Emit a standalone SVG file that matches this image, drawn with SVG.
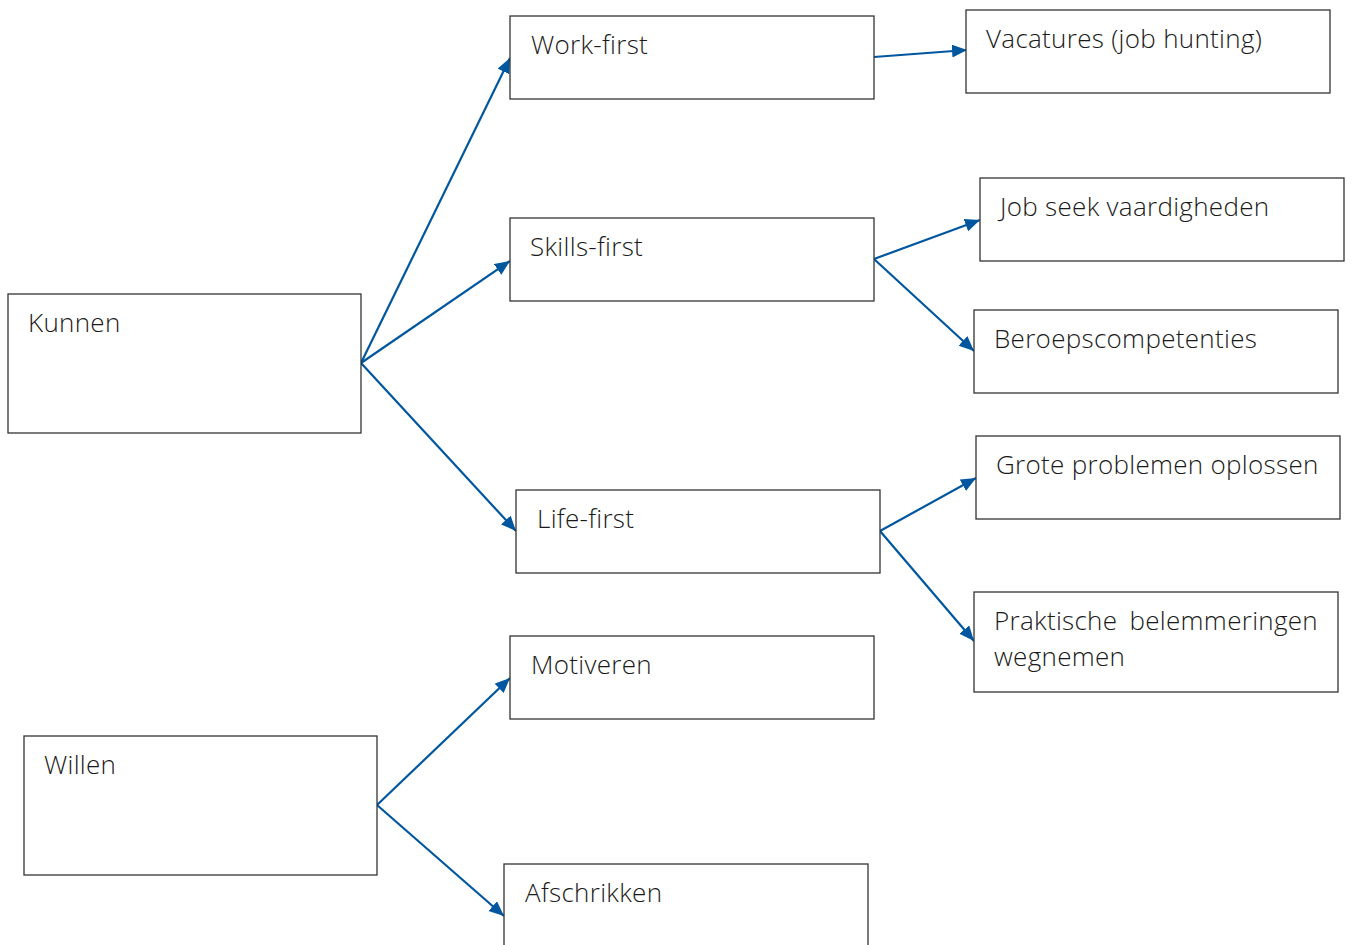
<svg xmlns="http://www.w3.org/2000/svg" width="1352" height="945" viewBox="0 0 1352 945">
<style>
.box{fill:#fff;stroke:#333;stroke-width:1.3}
.lbl{font-family:"Open Sans","Noto Sans",sans-serif;font-weight:300;font-size:26px;letter-spacing:0.3px;fill:#1a1a1a}
.conn{stroke:#0057a0;stroke-width:2.2;fill:none}
</style>
<defs>
<marker id="ah" markerUnits="userSpaceOnUse" markerWidth="17" markerHeight="14" refX="15" refY="6.5" orient="auto">
<path d="M0,0 L15,6.5 L0,13 z" fill="#0057a0"/>
</marker>
</defs>
<rect width="1352" height="945" fill="#fff"/>
<g id="connectors">
<line class="conn" x1="361" y1="363" x2="510" y2="58" marker-end="url(#ah)"/>
<line class="conn" x1="361" y1="363" x2="510" y2="261" marker-end="url(#ah)"/>
<line class="conn" x1="361" y1="363" x2="516" y2="531" marker-end="url(#ah)"/>
<line class="conn" x1="874" y1="57" x2="967" y2="50" marker-end="url(#ah)"/>
<line class="conn" x1="874" y1="259" x2="980" y2="220" marker-end="url(#ah)"/>
<line class="conn" x1="874" y1="259" x2="974" y2="351" marker-end="url(#ah)"/>
<line class="conn" x1="880" y1="531" x2="976" y2="478" marker-end="url(#ah)"/>
<line class="conn" x1="880" y1="531" x2="974" y2="641" marker-end="url(#ah)"/>
<line class="conn" x1="377" y1="805" x2="510" y2="678" marker-end="url(#ah)"/>
<line class="conn" x1="377" y1="805" x2="504" y2="916" marker-end="url(#ah)"/>
</g>
<g id="kunnen"><rect class="box" x="8" y="294" width="353" height="139"/><text class="lbl" x="28" y="332">Kunnen</text></g>
<g id="willen"><rect class="box" x="24" y="736" width="353" height="139"/><text class="lbl" x="44" y="774">Willen</text></g>
<g id="work-first"><rect class="box" x="510" y="16" width="364" height="83"/><text class="lbl" x="531" y="54">Work-first</text></g>
<g id="skills-first"><rect class="box" x="510" y="218" width="364" height="83"/><text class="lbl" x="530" y="256">Skills-first</text></g>
<g id="life-first"><rect class="box" x="516" y="490" width="364" height="83"/><text class="lbl" x="537" y="528">Life-first</text></g>
<g id="motiveren"><rect class="box" x="510" y="636" width="364" height="83"/><text class="lbl" x="531" y="674">Motiveren</text></g>
<g id="afschrikken"><rect class="box" x="504" y="864" width="364" height="100"/><text class="lbl" x="525" y="902">Afschrikken</text></g>
<g id="vacatures"><rect class="box" x="966" y="10" width="364" height="83"/><text class="lbl" x="986" y="48">Vacatures (job hunting)</text></g>
<g id="job-seek"><rect class="box" x="980" y="178" width="364" height="83"/><text class="lbl" x="1000" y="216">Job seek vaardigheden</text></g>
<g id="beroeps"><rect class="box" x="974" y="310" width="364" height="83"/><text class="lbl" x="994" y="348">Beroepscompetenties</text></g>
<g id="grote"><rect class="box" x="976" y="436" width="364" height="83"/><text class="lbl" x="996" y="474">Grote problemen oplossen</text></g>
<g id="praktische"><rect class="box" x="974" y="592" width="364" height="100"/><text class="lbl" x="994" y="630">Praktische</text><text class="lbl" x="1318" y="630" text-anchor="end">belemmeringen</text><text class="lbl" x="994" y="666">wegnemen</text></g>
</svg>
